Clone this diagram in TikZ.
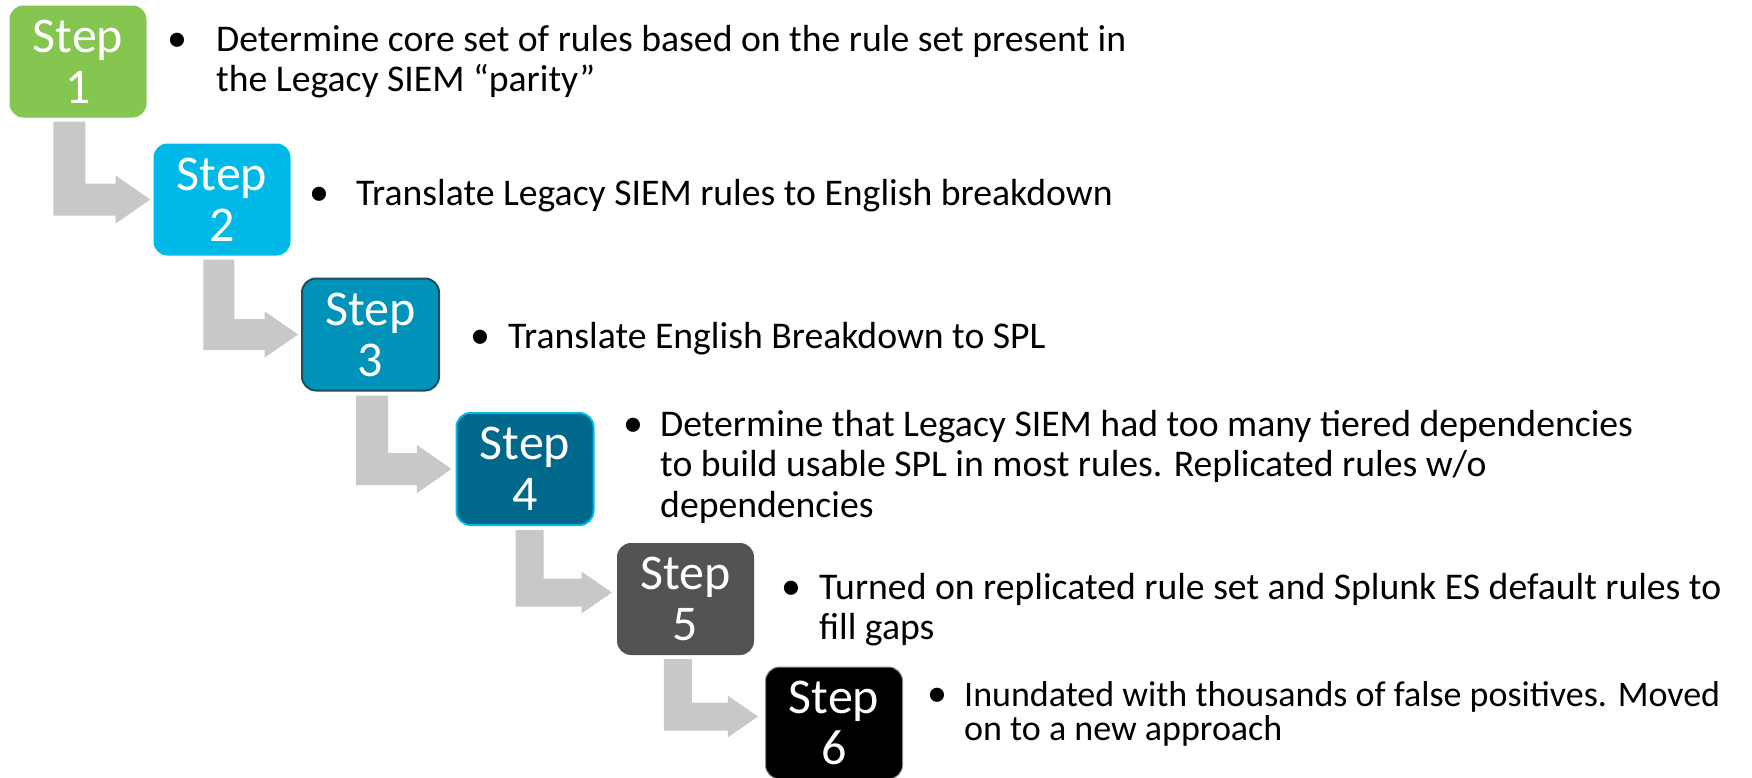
\documentclass[tikz,border=0pt]{standalone}
\usepackage{fontspec}
\setmainfont{Carlito}
\usetikzlibrary{calc}

\definecolor{stepgreen}{HTML}{84C650}
\definecolor{stepcyan}{HTML}{00B9E6}
\definecolor{stepteal}{HTML}{0093B9}
\definecolor{stepnavy}{HTML}{1C4E60}
\definecolor{steppetrol}{HTML}{00688A}
\definecolor{stepgrey}{HTML}{535353}
\definecolor{arrowgrey}{HTML}{C8C8C8}

% bullet text block of natural width whose anchor sits on the first baseline
\newcommand{\bulletlines}[1]{\begin{tabular}[t]{@{}l@{}}#1\end{tabular}}

% bent block arrow: down from the source box, then right into the target box
% #1 source, #2 target, #3 shaft offset from source's left edge,
% #4 shaft width, #5 gap before target, #6 lift of the tip above target centre
\newcommand{\bendarrow}[6]{%
  \fill[connector] let \p1=(#1.south west), \p2=(#2.west) in
    ({\x1+#3pt}, {\y1-4pt}) --
    ({\x1+#3pt+#4pt}, {\y1-4pt}) --
    ({\x1+#3pt+#4pt}, {\y2+#6pt+0.5*#4pt}) --
    ({\x2-#5pt-1.08*#4pt}, {\y2+#6pt+0.5*#4pt}) --
    ({\x2-#5pt-1.08*#4pt}, {\y2+#6pt+0.75*#4pt}) --
    ({\x2-#5pt}, {\y2+#6pt}) --
    ({\x2-#5pt-1.08*#4pt}, {\y2+#6pt-0.75*#4pt}) --
    ({\x2-#5pt-1.08*#4pt}, {\y2+#6pt-0.5*#4pt}) --
    ({\x1+#3pt}, {\y2+#6pt-0.5*#4pt}) -- cycle;}

\begin{document}
\begin{tikzpicture}[x=1pt,y=-1pt,
  stepbox/.style={rounded corners=14pt, minimum width=137pt, minimum height=112pt,
    inner sep=0pt, text=white, align=center, font=\fontsize{50}{51}\selectfont},
  bodytext/.style={anchor=base west, inner sep=0pt, font=\fontsize{37.7}{40.5}\selectfont},
  bulletdot/.style={anchor=base, inner sep=0pt, font=\fontsize{40}{41}\selectfont},
  connector/.style={fill=arrowgrey}]
\useasboundingbox (0,0) rectangle (1752,777);

% step boxes
\node[stepbox, fill=stepgreen] (s1) at (78,61.5) {Step\\1};
\node[stepbox, fill=stepcyan] (s2) at (222,199.5) {Step\\2};
\node[stepbox, fill=stepteal, draw=stepnavy, line width=2pt] (s3) at (370.5,334.5) {Step\\3};
\node[stepbox, fill=steppetrol, draw=stepcyan, line width=2pt] (s4) at (525,469) {Step\\4};
\node[stepbox, fill=stepgrey] (s5) at (685.5,599) {Step\\5};
\node[stepbox, fill=black, draw=black!45, line width=1pt] (s6) at (834,723) {Step\\6};

% connectors between consecutive steps
\bendarrow{s1}{s2}{44}{32}{3}{0}
\bendarrow{s2}{s3}{50}{31}{3}{0}
\bendarrow{s3}{s4}{55}{32}{4}{0}
\bendarrow{s4}{s5}{60}{28}{5}{6.5}
\bendarrow{s5}{s6}{47}{28}{7}{6.5}

% descriptions
\node[bulletdot] (b1) at (177,51) {•};
\node[bodytext] (t1) at (216,51) {\bulletlines{Determine core set of rules based on the rule set present in\\
  the Legacy SIEM “parity”}};

\node[bulletdot] (b2) at (319,205) {•};
\node[bodytext] (t2) at (356,205) {\bulletlines{Translate Legacy SIEM rules to English breakdown}};

\node[bulletdot] (b3) at (480,348) {•};
\node[bodytext] (t3) at (508,348) {\bulletlines{Translate English Breakdown to SPL}};

\node[bulletdot] (b4) at (633,436) {•};
\node[bodytext] (t4) at (660,436) {\bulletlines{Determine that Legacy SIEM had too many tiered dependencies\\
  to build usable SPL in most rules. Replicated rules w/o\\ dependencies}};

\node[bulletdot] (b5) at (791,599) {•};
\node[bodytext] (t5) at (819,599) {\bulletlines{Turned on replicated rule set and Splunk ES default rules to\\ fill gaps}};

\node[bulletdot] (b6) at (937,706) {•};
\node[bodytext, font=\fontsize{36}{32}\selectfont] (t6) at (964,706) {\bulletlines{Inundated with thousands of false positives. Moved\\ on to a new approach}};
\end{tikzpicture}
\end{document}
